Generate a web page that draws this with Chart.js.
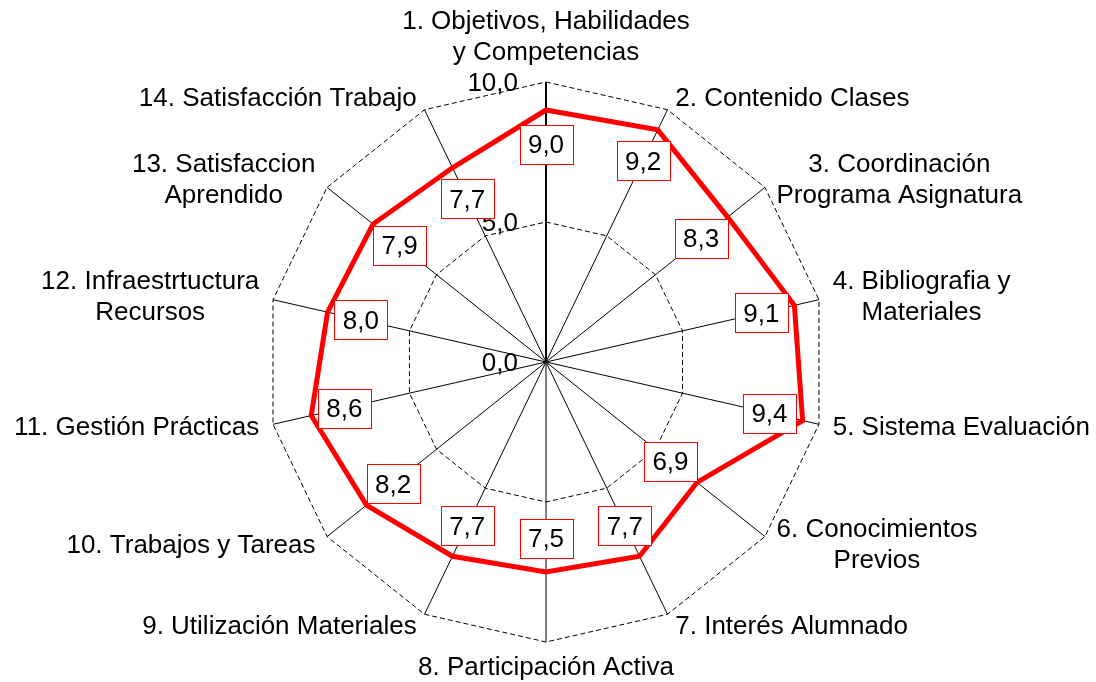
<!DOCTYPE html>
<html>
<head>
<meta charset="utf-8">
<script src="https://cdn.jsdelivr.net/npm/chart.js@4"></script>
<style>
  html, body { margin: 0; padding: 0; background: #fff; }
  canvas { display: block; }
</style>
</head>
<body>
<canvas id="radarChart" width="1096" height="682"></canvas>
<script>
const categories = [
  ['1. Objetivos, Habilidades', 'y Competencias'],
  ['2. Contenido Clases'],
  ['3. Coordinación', 'Programa Asignatura'],
  ['4. Bibliografia y', 'Materiales'],
  ['5. Sistema Evaluación'],
  ['6. Conocimientos', 'Previos'],
  ['7. Interés Alumnado'],
  ['8. Participación Activa'],
  ['9. Utilización Materiales'],
  ['10. Trabajos y Tareas'],
  ['11. Gestión Prácticas'],
  ['12. Infraestrtuctura', 'Recursos'],
  ['13. Satisfaccion', 'Aprendido'],
  ['14. Satisfacción Trabajo']
];
const scores = [9.0, 9.2, 8.3, 9.1, 9.4, 6.9, 7.7, 7.5, 7.7, 8.2, 8.6, 8.0, 7.9, 7.7];
const tickValues = [0, 5, 10];
const tickLabels = ['0,0', '5,0', '10,0'];

const FONT = '26px "Liberation Sans", Arial, sans-serif';

// labels, ticks and value boxes are drawn by hand so the radar keeps its size
const radarExtras = {
  id: 'radarExtras',
  beforeDatasetsDraw(chart) {
    const scale = chart.scales.r;
    const ctx = chart.ctx;
    const top = scale.getPointPosition(0, scale.drawingArea);
    ctx.save();
    ctx.strokeStyle = '#000';
    ctx.lineWidth = 2;
    ctx.beginPath();
    ctx.moveTo(scale.xCenter, scale.yCenter);
    ctx.lineTo(top.x, top.y);
    ctx.stroke();

    ctx.font = FONT;
    ctx.fillStyle = '#000';
    ctx.textAlign = 'right';
    ctx.textBaseline = 'middle';
    tickValues.forEach((v, i) => {
      const d = scale.getDistanceFromCenterForValue(v);
      ctx.fillText(tickLabels[i], scale.xCenter - 28, scale.yCenter - d + 2);
    });

    // category labels
    const n = categories.length;
    const lh = 31;
    categories.forEach((lines, i) => {
      const a = i * 2 * Math.PI / n;
      const s = Math.sin(a), c = Math.cos(a);
      const p = scale.getPointPosition(i, scale.drawingArea);
      const maxW = Math.max(...lines.map(l => ctx.measureText(l).width));
      let cx, y0;
      if (i === 0) {
        cx = p.x;
        y0 = p.y - 30 - (lines.length - 1) * lh;
      } else if (Math.abs(s) < 0.1) {
        cx = p.x;
        y0 = p.y + 25;
      } else {
        const gap = 3 + 11 * Math.abs(s);
        cx = s > 0 ? p.x + gap + maxW / 2 : p.x - gap - maxW / 2;
        y0 = p.y - 13 * c - (lines.length - 1) * lh / 2;
      }
      ctx.textAlign = 'center';
      lines.forEach((l, k) => ctx.fillText(l, cx, y0 + k * lh + 1));
    });
    ctx.restore();
  },
  afterDatasetsDraw(chart) {
    const scale = chart.scales.r;
    const ctx = chart.ctx;
    ctx.save();
    ctx.font = FONT;
    ctx.textAlign = 'center';
    ctx.textBaseline = 'middle';
    scores.forEach((v, i) => {
      const d = scale.getDistanceFromCenterForValue(v) - 34;
      const p = scale.getPointPosition(i, d);
      const txt = v.toFixed(1).replace('.', ',');
      const w = 53, h = 39;
      const x = Math.round(p.x - w / 2) + 0.5, y = Math.round(p.y - h / 2) + 0.5;
      ctx.fillStyle = '#fff';
      ctx.fillRect(x, y, w, h);
      ctx.strokeStyle = '#ff0000';
      ctx.lineWidth = 1;
      ctx.strokeRect(x, y, w, h);
      ctx.fillStyle = '#000';
      ctx.fillText(txt, p.x, p.y + 2);
    });
    ctx.restore();
  }
};

const ctx = document.getElementById('radarChart').getContext('2d');
new Chart(ctx, {
  type: 'radar',
  data: {
    labels: categories,
    datasets: [{
      label: 'Valoración',
      data: scores,
      borderColor: '#ff0000',
      borderWidth: 5,
      fill: false,
      tension: 0,
      pointRadius: 0
    }]
  },
  options: {
    responsive: false,
    animation: false,
    layout: {
      padding: { left: 266, right: 270, top: 82, bottom: 40 }
    },
    scales: {
      r: {
        min: 0,
        max: 10,
        ticks: { stepSize: 5, display: false },
        pointLabels: { display: false },
        grid: { color: '#000', lineWidth: 1 },
        border: { dash: [5, 3] },
        angleLines: { color: '#000', lineWidth: 1 }
      }
    },
    plugins: {
      legend: { display: false },
      tooltip: { enabled: false }
    }
  },
  plugins: [radarExtras]
});
</script>
</body>
</html>
